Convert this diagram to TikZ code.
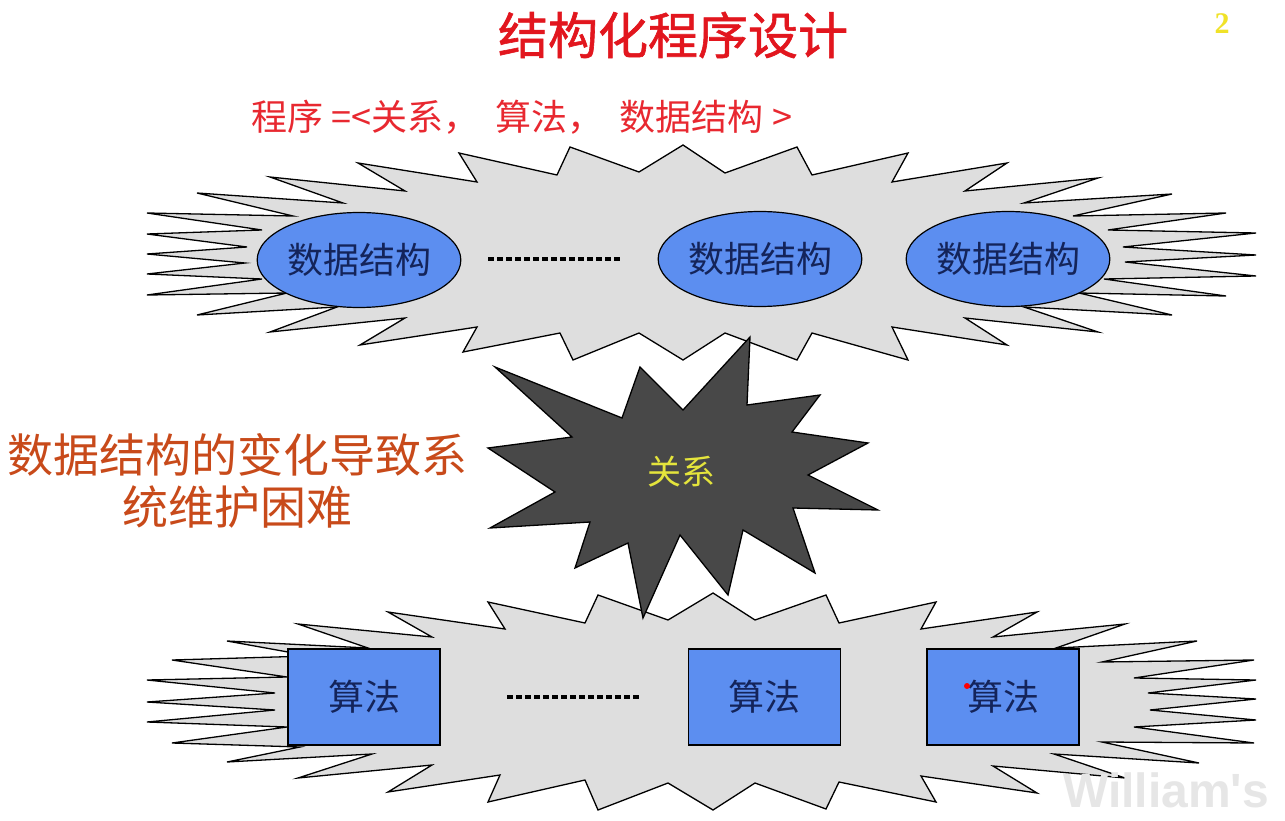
\documentclass[tikz,border=0pt]{standalone}
\usepackage{fontspec}
\newfontfamily\cjk{Noto Sans CJK SC}
\newfontfamily\cjkheavy[FakeBold=1.2]{Noto Sans CJK SC}
\newfontfamily\numfont{Liberation Serif}
\newfontfamily\markfont{Liberation Sans}
\usetikzlibrary{shapes.geometric}
\definecolor{burstgray}{RGB}{222,222,222}
\definecolor{darkstar}{RGB}{72,72,72}
\definecolor{boxblue}{RGB}{92,142,240}
\definecolor{boxtext}{RGB}{20,36,90}
\definecolor{titlered}{RGB}{226,22,30}
\definecolor{subred}{RGB}{232,40,48}
\definecolor{noteorange}{RGB}{200,74,26}
\definecolor{relyellow}{RGB}{228,228,60}
\definecolor{pageyellow}{RGB}{240,226,40}
\definecolor{markgray}{RGB}{230,230,230}
\begin{document}
\begin{tikzpicture}[x=1pt,y=-1pt,
  burst/.style={fill=burstgray, draw=black, line width=1.3pt, line join=miter},
  bang/.style={fill=darkstar, draw=black, line width=1.3pt, line join=miter},
  dsnode/.style={ellipse, draw=black, line width=1.2pt, fill=boxblue,
    minimum width=200pt, minimum height=95pt, inner sep=0pt,
    text=boxtext, font=\cjk\fontsize{36}{36}\selectfont},
  algbox/.style={rectangle, draw=black, line width=1.2pt, fill=boxblue,
    minimum width=152pt, minimum height=96pt, inner sep=0pt,
    text=boxtext, font=\cjk\fontsize{36}{36}\selectfont},
  dotline/.style={line width=4.5pt, dash pattern=on 6pt off 3pt, black}]
\useasboundingbox[fill=white] (0,0) rectangle (1285,821);

% upper cloud: data structures
\draw[burst] (147,213) -- (293,216) -- (197,193) -- (343,203) -- (270,177) -- (405,191)
  -- (358,163) -- (477,182) -- (459,153) -- (557,175) -- (570,147) -- (639,172)
  -- (683,145) -- (725,173) -- (797,147) -- (812,175) -- (908,153) -- (892,182)
  -- (1007,163) -- (965,191) -- (1098,178) -- (1024,203) -- (1172,194) -- (1073,216)
  -- (1226,213) -- (1108,230) -- (1256,233) -- (1123,247) -- (1256,255) -- (1125,262)
  -- (1256,276) -- (1104,279) -- (1226,296) -- (1079,293) -- (1172,315) -- (1024,307)
  -- (1098,332) -- (965,318) -- (1007,345) -- (892,327) -- (908,360) -- (812,333)
  -- (797,360) -- (725,333) -- (683,360) -- (639,333) -- (573,360) -- (560,333)
  -- (463,352) -- (477,327) -- (360,345) -- (405,318) -- (270,332) -- (337,307)
  -- (197,315) -- (287,293) -- (147,295) -- (262,279) -- (147,274) -- (245,263)
  -- (147,254) -- (247,247) -- (147,234) -- (262,230) -- cycle;

% lower cloud: algorithms
\draw[burst] (598,595) -- (668,620) -- (713,593) -- (755,620) -- (826,595) -- (839,623)
  -- (936,602) -- (921,629) -- (1037,612) -- (993,637) -- (1125,624) -- (1056,648)
  -- (1197,641) -- (1102,662) -- (1254,660) -- (1134,678) -- (1256,680) -- (1148,693)
  -- (1256,699) -- (1150,710) -- (1256,720) -- (1134,727) -- (1254,743) -- (1102,742)
  -- (1199,763) -- (1054,754) -- (1125,778) -- (993,766) -- (1037,793) -- (921,776)
  -- (936,802) -- (839,782) -- (826,809) -- (755,783) -- (713,810) -- (668,783)
  -- (598,810) -- (585,780) -- (488,802) -- (500,775) -- (388,792) -- (432,765)
  -- (298,778) -- (372,754) -- (227,762) -- (300,747) -- (172,743) -- (287,727)
  -- (147,722) -- (275,710) -- (147,702) -- (275,693) -- (147,680) -- (287,677)
  -- (172,660) -- (310,656) -- (227,641) -- (368,648) -- (298,624) -- (432,637)
  -- (388,612) -- (505,629) -- (488,602) -- (585,623) -- cycle;

% relation star in between
\draw[bang] (750,337) -- (747,405) -- (820,395) -- (792,432) -- (868,443) -- (808,475)
  -- (878,510) -- (793,508) -- (815,573) -- (743,530) -- (728,595) -- (680,535)
  -- (643,618) -- (628,543) -- (575,568) -- (590,522) -- (490,528) -- (555,492)
  -- (488,448) -- (572,437) -- (495,367) -- (622,418) -- (640,367) -- (683,410) -- cycle;
\node[text=relyellow, font=\cjk\fontsize{34}{34}\selectfont] (rel) at (681,472) {关系};

% data structure nodes
\node[dsnode] (ds1) at (359,260) {数据结构};
\node[dsnode] (ds2) at (760,259) {数据结构};
\node[dsnode] (ds3) at (1008,259) {数据结构};
\coordinate (dsa) at (488,259);
\coordinate (dsb) at (622,259);
\draw[dotline] (dsa) -- (dsb);

% algorithm nodes
\node[algbox] (al1) at (364,697) {算法};
\node[algbox] (al2) at (764.5,697) {算法};
\node[algbox] (al3) at (1003,697) {算法};
\coordinate (ala) at (507,697);
\coordinate (alb) at (641,697);
\draw[dotline] (ala) -- (alb);
\fill[red] (967,686) circle (3pt);

% headings
\node[text=titlered, font=\cjkheavy\fontsize{50}{50}\selectfont] (title) at (673,35) {结构化程序设计};
\node[text=subred, font=\cjk\fontsize{36}{36}\selectfont] (formula) at (522,117)
  {程序 =<关系，\hspace{16pt}算法，\hspace{16pt}数据结构 >};
\node[text=pageyellow, font=\numfont\bfseries\fontsize{30}{30}\selectfont] (page) at (1222,24) {2};

% side note
\node[text=noteorange, font=\cjk\fontsize{46}{52}\selectfont, align=center] (note) at (238,481)
  {数据结构的变化导致系\\统维护困难};

% watermark
\node[text=markgray, font=\markfont\bfseries\fontsize{48}{48}\selectfont] (mark) at (1166,790) {William's};
\end{tikzpicture}
\end{document}
